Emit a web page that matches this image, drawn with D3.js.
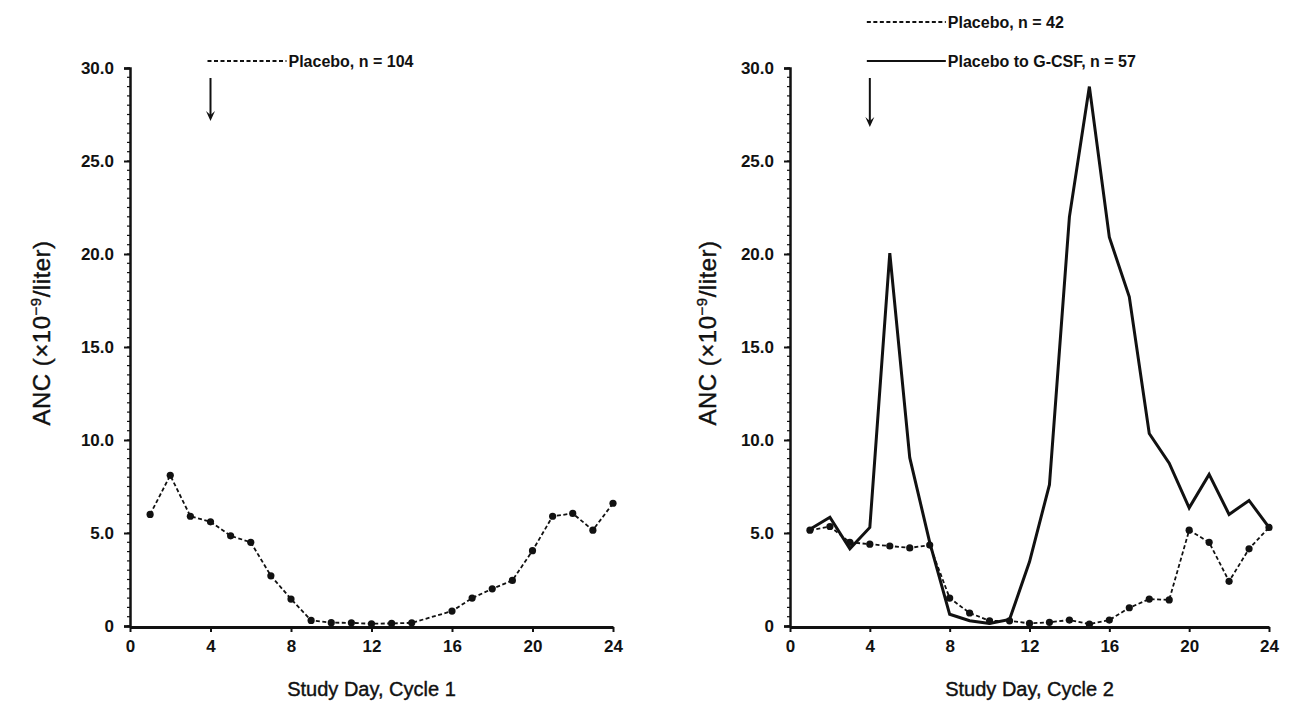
<!DOCTYPE html>
<html><head><meta charset="utf-8">
<script src="https://cdn.jsdelivr.net/npm/d3@7"></script>
<style>
html,body{margin:0;padding:0;background:#fff;}
text{font-family:"Liberation Sans",Arial,sans-serif;fill:#111;}
</style></head>
<body>
<svg id="chart" width="1290" height="710"></svg>
<script>
// ---- data ----
const xTicks = [0, 4, 8, 12, 16, 20, 24];
const yTicks = [0, 5, 10, 15, 20, 25, 30];
const yTickLabels = ["0", "5.0", "10.0", "15.0", "20.0", "25.0", "30.0"];

const cycle1Days = [1,2,3,4,5,6,7,8,9,10,11,12,13,14,16,17,18,19,20,21,22,23,24];
const cycle1Placebo = [6.0,8.1,5.9,5.6,4.85,4.5,2.7,1.45,0.3,0.18,0.17,0.12,0.14,0.17,0.8,1.5,2.0,2.45,4.05,5.9,6.05,5.15,6.6];

const cycle2Days = [1,2,3,4,5,6,7,8,9,10,11,12,13,14,15,16,17,18,19,20,21,22,23,24];
const cycle2Placebo = [5.15,5.35,4.5,4.4,4.3,4.2,4.35,1.5,0.7,0.28,0.28,0.14,0.2,0.32,0.1,0.32,0.98,1.45,1.4,5.15,4.5,2.4,4.15,5.3];
const cycle2GCSF = [5.2,5.85,4.15,5.3,20.05,9.05,4.5,0.63,0.28,0.14,0.35,3.45,7.6,22.0,29.0,20.9,17.7,10.35,8.75,6.35,8.15,6.0,6.75,5.3];

const panels = [
  {x0:130, x1:613, title:"Study Day, Cycle 1", arrowDay:4, ytx:50,
   legend:[{dash:true, label:"Placebo, n = 104", y:61}],
   series:[{days:cycle1Days, vals:cycle1Placebo, dash:true}]},
  {x0:790, x1:1269, title:"Study Day, Cycle 2", arrowDay:4, ytx:716,
   legend:[{dash:true, label:"Placebo, n = 42", y:22},{dash:false, label:"Placebo to G-CSF, n = 57", y:61}],
   series:[{days:cycle2Days, vals:cycle2GCSF, dash:false},{days:cycle2Days, vals:cycle2Placebo, dash:true}]}
];

const svg = d3.select("#chart");
const yTop = 68, yBot = 626;

panels.forEach(p => {
  const x = d3.scaleLinear().domain([0,24]).range([p.x0, p.x1]);
  const y = d3.scaleLinear().domain([0,30]).range([yBot, yTop]);
  const g = svg.append("g");

  // minor ticks on y
  const minor = d3.range(0, 30.01, 0.5);
  g.append("g").selectAll("line").data(minor).join("line")
    .attr("x1", p.x0-3).attr("x2", p.x0).attr("y1", d=>y(d)).attr("y2", d=>y(d))
    .attr("stroke","#111").attr("stroke-width",1.2);

  // y axis
  const ya = g.append("g").attr("transform",`translate(${p.x0},0)`)
    .call(d3.axisLeft(y).tickValues(yTicks).tickFormat((d,i)=>yTickLabels[i]).tickSize(6).tickPadding(10));
  ya.select(".domain").attr("stroke","#111").attr("stroke-width",2.5);
  ya.selectAll(".tick line").attr("stroke","#111").attr("stroke-width",2);
  ya.selectAll(".tick text").attr("font-size",17).attr("font-weight","bold").attr("fill","#111")
    .style("font-family","'Liberation Sans',Arial,sans-serif");

  // x axis
  const xa = g.append("g").attr("transform",`translate(0,${yBot+1})`)
    .call(d3.axisBottom(x).tickValues(xTicks).tickSize(5).tickPadding(8).tickSizeOuter(0));
  xa.select(".domain").attr("stroke","#111").attr("stroke-width",3);
  xa.selectAll(".tick line").attr("stroke","#111").attr("stroke-width",2);
  xa.selectAll(".tick text").attr("font-size",17).attr("font-weight","bold").attr("fill","#111")
    .style("font-family","'Liberation Sans',Arial,sans-serif");

  // x title
  g.append("text").attr("x",(p.x0+p.x1)/2).attr("y",696).attr("text-anchor","middle")
    .attr("font-size",20).attr("stroke","#111").attr("stroke-width",0.4).text(p.title);
  // y title
  g.append("text").attr("transform",`translate(${p.ytx},333) rotate(-90)`)
    .attr("text-anchor","middle").attr("font-size",24).attr("letter-spacing",0.5)
    .attr("stroke","#111").attr("stroke-width",0.4)
    .html('ANC (×10<tspan dy="-9" font-size="15">−9</tspan><tspan dy="9">/liter)</tspan>');

  // series
  p.series.forEach(s => {
    const pts = s.days.map((d,i)=>[d, s.vals[i]]);
    const line = d3.line().x(d=>x(d[0])).y(d=>y(d[1]));
    g.append("path").datum(pts).attr("d",line).attr("fill","none").attr("stroke","#111")
      .attr("stroke-width", s.dash?1.8:3).attr("stroke-dasharray", s.dash?"4,2.5":null)
      .attr("stroke-linejoin","miter");
    if (s.dash) {
      g.append("g").selectAll("circle").data(pts).join("circle")
        .attr("cx",d=>x(d[0])).attr("cy",d=>y(d[1])).attr("r",3.6).attr("fill","#111");
    }
  });

  // legend
  p.legend.forEach(l => {
    const lx0 = x(p.arrowDay)-3, lx1 = lx0+79;
    g.append("line").attr("x1",lx0).attr("x2",lx1).attr("y1",l.y).attr("y2",l.y)
      .attr("stroke","#111").attr("stroke-width",l.dash?1.8:2.2).attr("stroke-dasharray",l.dash?"4,2.5":null);
    g.append("text").attr("x",lx1+2).attr("y",l.y+6).attr("font-size",16).attr("font-weight","bold").text(l.label);
  });

  // arrow
  const ax = x(p.arrowDay);
  const aTop = 78, aBot = p.x0 < 500 ? 121 : 127;
  g.append("line").attr("x1",ax).attr("x2",ax).attr("y1",aTop).attr("y2",aBot-4).attr("stroke","#111").attr("stroke-width",2);
  g.append("path").attr("d",`M${ax-4.5},${aBot-10} L${ax},${aBot} L${ax+4.5},${aBot-10} L${ax},${aBot-6} Z`).attr("fill","#111");
});
</script>
</body></html>
